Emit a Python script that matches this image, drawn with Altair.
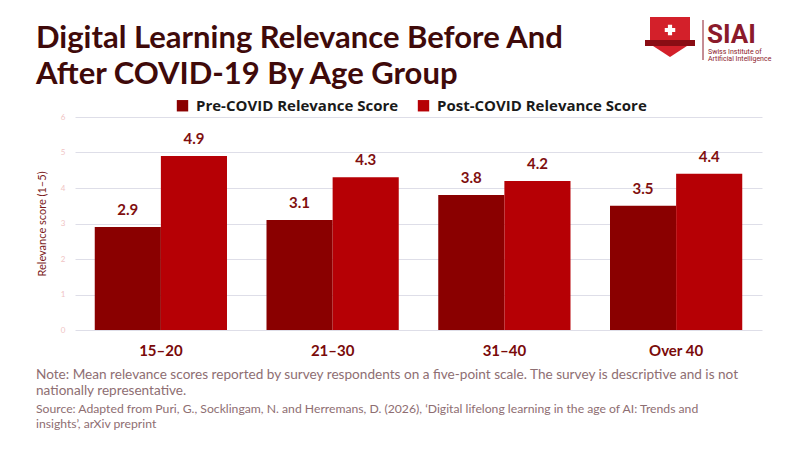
import altair as alt
import pandas as pd

groups = ["15–20", "21–30", "31–40", "Over 40"]
series_names = ["Pre-COVID Relevance Score", "Post-COVID Relevance Score"]
pre_scores = [2.9, 3.1, 3.8, 3.5]
post_scores = [4.9, 4.3, 4.2, 4.4]
y_ticks = [0, 1, 2, 3, 4, 5, 6]

title_lines = ["Digital Learning Relevance Before And", "After COVID-19 By Age Group"]
note_lines = [
    "Note: Mean relevance scores reported by survey respondents on a five-point scale. The survey is descriptive and is not",
    "nationally representative.",
]
source_lines = [
    "Source: Adapted from Puri, G., Socklingam, N. and Herremans, D. (2026), \u2018Digital lifelong learning in the age of AI: Trends and",
    "insights\u2019, arXiv preprint",
]

rows = []
for g, a, b in zip(groups, pre_scores, post_scores):
    rows.append({"group": g, "series": series_names[0], "value": a})
    rows.append({"group": g, "series": series_names[1], "value": b})
df = pd.DataFrame(rows)

W, H = 687, 213
OX, OY = 75, 117  # plot origin in page coordinates

x_enc = alt.X("group:N", sort=groups, title=None,
              scale=alt.Scale(paddingInner=0.23, paddingOuter=0.115),
              axis=alt.Axis(labelAngle=0, labelFont="Lato", labelFontSize=15,
                            labelFontWeight="bold", labelColor="#7a0a0a",
                            labelPadding=13, domain=False, ticks=False, grid=False))
y_enc = alt.Y("value:Q", title="Relevance score (1–5)",
              scale=alt.Scale(domain=[0, 6], nice=False),
              axis=alt.Axis(values=y_ticks, labelFont="Lato", labelFontSize=8,
                            labelColor="#f0c4c4", labelPadding=10, domain=False,
                            ticks=False, gridColor="#dedee8", gridWidth=1,
                            titleFont="Lato", titleFontSize=11, titleFontWeight="normal",
                            titleColor="#7b1a1a", titlePadding=13))
xo = alt.XOffset("series:N", sort=series_names)
color = alt.Color("series:N", sort=series_names,
                  scale=alt.Scale(domain=series_names, range=["#8a0000", "#b60005"]),
                  legend=alt.Legend(title=None, orient="none", legendX=100, legendY=-19,
                                    direction="horizontal", symbolType="square",
                                    symbolSize=130, symbolStrokeWidth=0,
                                    labelFont="Open Sans", labelFontSize=15, labelLimit=400,
                                    labelFontWeight="bold", labelColor="#1a1a1a",
                                    columnPadding=17, labelOffset=6))

base = alt.Chart(df)
bars = base.mark_bar().encode(x=x_enc, y=y_enc, xOffset=xo, color=color)
labels = base.mark_text(dy=-9, baseline="bottom", font="Lato", fontSize=15,
                        fontWeight="bold", color="#800f0f").encode(
    x=x_enc, y=y_enc, xOffset=xo, text=alt.Text("value:Q", format=".1f"))


def txt(s, px, py, size, color, weight="normal", font="Lato", align="left"):
    return alt.Chart(pd.DataFrame({"t": [s]})).mark_text(
        align=align, baseline="alphabetic", font=font, fontSize=size,
        fontWeight=weight, color=color).encode(
        x=alt.value(px - OX), y=alt.value(py - OY), text="t:N")


layers = [bars, labels]
layers.append(txt(title_lines[0], 36, 48, 31, "#3f0a0a", "bold"))
layers.append(txt(title_lines[1], 36, 84, 31, "#3f0a0a", "bold"))
layers.append(txt(note_lines[0], 36, 379, 13.6, "#8e6e72"))
layers.append(txt(note_lines[1], 36, 395, 13.6, "#8e6e72"))
layers.append(txt(source_lines[0], 36, 413, 12.2, "#8e6e72"))
layers.append(txt(source_lines[1], 36, 428, 12.2, "#8e6e72"))

# logo
shield = "M -1 -1 L 1 -1 L 1 0.35 L 0 1 L -1 0.35 Z"
one = pd.DataFrame({"k": [0]})
layers.append(alt.Chart(one).mark_point(shape=shield, filled=True, size=1600,
                                        color="#d3202a", opacity=1).encode(
    x=alt.value(670 - OX), y=alt.value(37 - OY)))
layers.append(alt.Chart(one).mark_point(shape="M -1 -0.12 L 1 -0.12 L 1 0.12 L -1 0.12 Z",
                                        filled=True, size=2500, color="#8a0d14",
                                        opacity=1).encode(
    x=alt.value(670 - OX), y=alt.value(43 - OY)))
layers.append(alt.Chart(one).mark_point(shape="cross", filled=True, size=110,
                                        color="white", opacity=1).encode(
    x=alt.value(670 - OX), y=alt.value(30 - OY)))
layers.append(alt.Chart(one).mark_rule(color="#8b1a2b", strokeWidth=1).encode(
    x=alt.value(703 - OX), y=alt.value(20 - OY), y2=alt.value(60 - OY)))
layers.append(txt("SIAI", 707, 43, 26, "#8b1a2b", "bold", font="Roboto"))
layers.append(txt("Swiss Institute of", 708, 53.5, 7, "#8b1a2b", font="Roboto"))
layers.append(txt("Artificial Intelligence", 708, 60.5, 7, "#8b1a2b", font="Roboto"))

chart = alt.layer(*layers).properties(
    width=W, height=H, background="white",
    autosize=alt.AutoSizeParams(type="none"),
    padding={"left": OX - 8, "top": OY - 8, "right": 784 - (OX - 8) - W,
             "bottom": 434 - (OY - 8) - H},
).configure_view(strokeWidth=0, stroke=None)

chart.save("out.html", embed_options={"renderer": "svg", "actions": False})
